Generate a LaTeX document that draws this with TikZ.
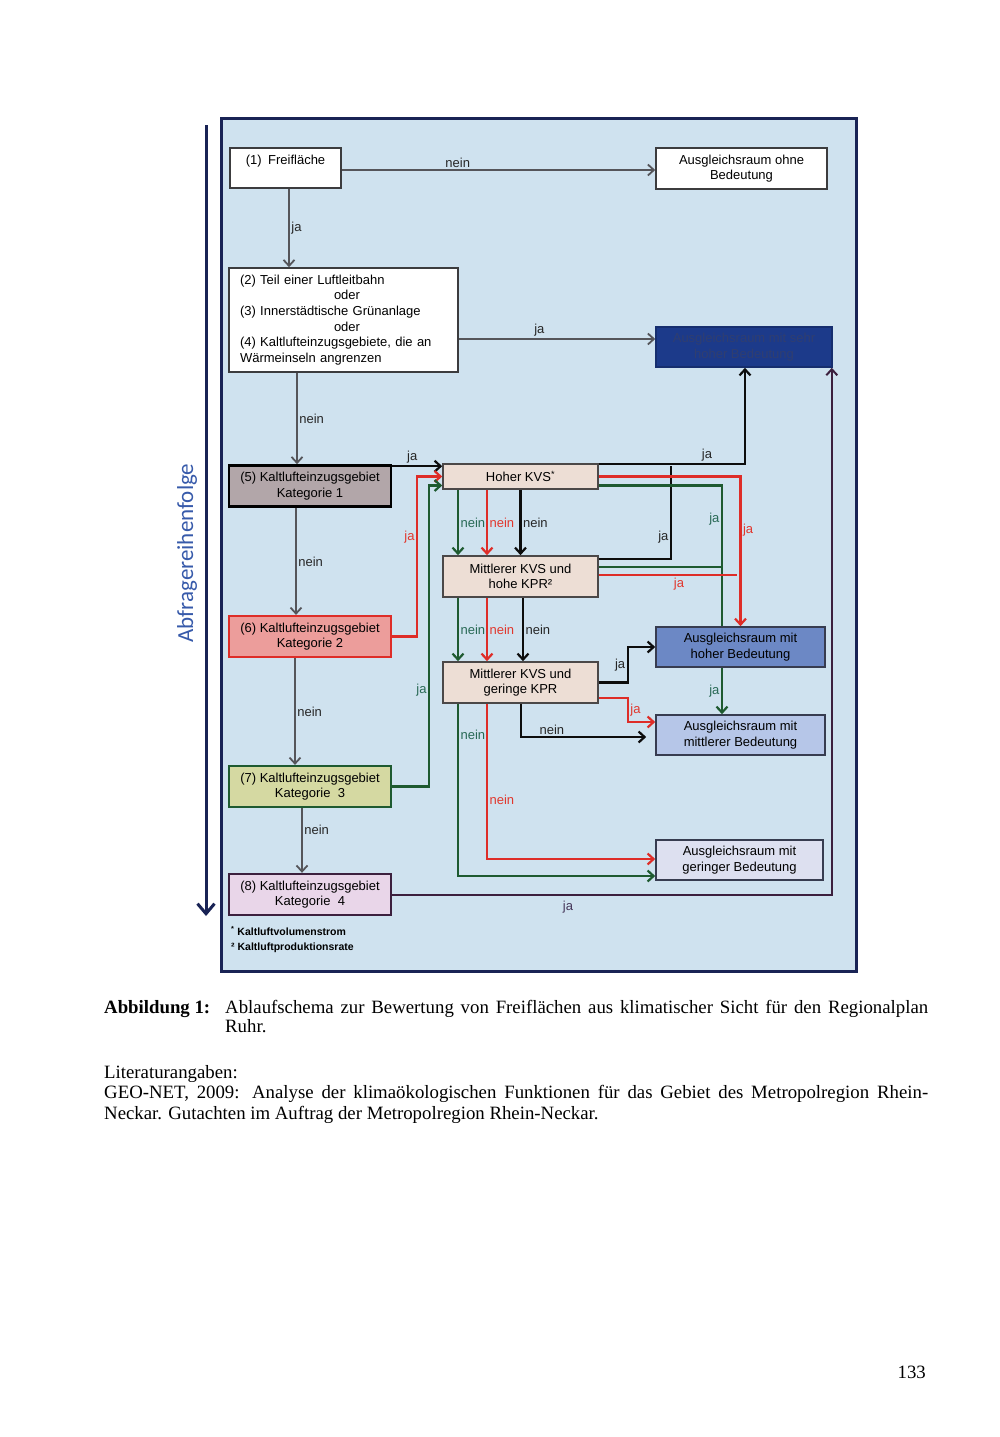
\documentclass[tikz,border=0pt]{standalone}
\usepackage{fontspec}
\setmainfont{Liberation Serif}
\setsansfont{Liberation Sans}
\newfontfamily\calfont{Carlito}
\usetikzlibrary{shapes}
\usetikzlibrary{arrows.meta}

\definecolor{bgblue}{RGB}{207,226,239}
\definecolor{framenavy}{RGB}{25,35,85}
\definecolor{ordblue}{RGB}{55,90,170}
\definecolor{boxgray}{RGB}{60,60,62}
\definecolor{linegray}{RGB}{85,85,90}
\definecolor{redline}{RGB}{222,45,40}
\definecolor{redtext}{RGB}{225,55,45}
\definecolor{greenline}{RGB}{30,90,48}
\definecolor{greentext}{RGB}{40,105,85}
\definecolor{purpleline}{RGB}{60,32,62}
\definecolor{putext}{RGB}{70,55,90}
\definecolor{sehrfill}{RGB}{28,58,138}
\definecolor{sehrtext}{RGB}{48,62,112}
\definecolor{hochfill}{RGB}{108,136,197}
\definecolor{mittelfill}{RGB}{182,198,232}
\definecolor{geringfill}{RGB}{221,224,240}
\definecolor{raumline}{RGB}{55,60,80}
\definecolor{kvsfill}{RGB}{237,222,213}
\definecolor{kvsline}{RGB}{75,72,72}
\definecolor{katafill}{RGB}{178,166,169}
\definecolor{katbfill}{RGB}{236,157,155}
\definecolor{katcfill}{RGB}{213,217,162}
\definecolor{katdfill}{RGB}{233,214,233}

\begin{document}
\begin{tikzpicture}[x=1pt,y=-1pt,
  >={Straight Barb[length=6pt,width=11pt]},
  box/.style={draw=boxgray,line width=1.6pt,align=center,inner sep=2pt,
    font=\sffamily\fontsize{13}{15.6}\selectfont},
  kat/.style={box,minimum width=162pt,minimum height=41pt},
  kvs/.style={box,fill=kvsfill,draw=kvsline,minimum width=155pt},
  raum/.style={box,draw=raumline,minimum height=40pt},
  lab/.style={font=\sffamily\fontsize{13}{15}\selectfont,inner sep=1.5pt,text=black!85},
  gy/.style={draw=linegray,line width=1.8pt},
  blk/.style={draw=black!95,line width=2.2pt},
  rd/.style={draw=redline,line width=2.2pt},
  gn/.style={draw=greenline,line width=2.2pt},
  pu/.style={draw=purpleline,line width=2pt}]

\fill[white] (0,0) rectangle (1000,1437);
\useasboundingbox (0,0) rectangle (1000,1437);
\draw[draw=framenavy,line width=3pt,fill=bgblue] (221,118) rectangle (856,971);

\coordinate (ordtop) at (206,125);
\coordinate (ordbot) at (206,916);
\draw[framenavy,line width=3pt,-{Straight Barb[length=10pt,width=17pt]}] (ordtop) -- (ordbot);
\node[rotate=90,text=ordblue,font=\calfont\fontsize{23}{23}\selectfont] (order) at (187,553) {Abfragereihenfolge};

\node[box,fill=white,minimum width=111pt,minimum height=40pt,align=left] (free) at (285.5,168) {(1)\enspace Freifläche\\\mbox{}};
\node[box,fill=white,minimum width=171pt,minimum height=41pt] (ohne) at (741.5,168.5) {Ausgleichsraum ohne\\Bedeutung};
\node[box,fill=white,minimum width=229pt,minimum height=104pt,text width=207pt,align=left] (teil) at (343.5,320) {(2) Teil einer Luftleitbahn\\\hspace*{94pt}oder\\(3) Innerstädtische Grünanlage\\\hspace*{94pt}oder\\(4) Kaltlufteinzugsgebiete, die an\\Wärmeinseln angrenzen};
\node[box,fill=sehrfill,draw=sehrfill!80!black,text=sehrtext,minimum width=176pt,minimum height=40pt] (sehrhoch) at (744,347) {Ausgleichsraum mit sehr\\hoher Bedeutung};

\node[kat,fill=katafill,draw=black,line width=2.6pt] (kat1) at (310,486) {(5) Kaltlufteinzugsgebiet\\Kategorie 1};
\node[kat,fill=katbfill,draw=redline,line width=2.2pt] (kat2) at (310,636.5) {(6) Kaltlufteinzugsgebiet\\Kategorie 2};
\node[kat,fill=katcfill,draw=greenline,line width=2.2pt] (kat3) at (310,786.5) {(7) Kaltlufteinzugsgebiet\\Kategorie~~3};
\node[kat,fill=katdfill,draw=purpleline,line width=2.4pt] (kat4) at (310,894.5) {(8) Kaltlufteinzugsgebiet\\Kategorie~~4};

\node[kvs,minimum height=25pt] (kvsh) at (520.5,476.5) {Hoher KVS\textsuperscript{*}};
\node[kvs,minimum height=41pt] (kvsm) at (520.5,576.5) {Mittlerer KVS und\\hohe KPR²};
\node[kvs,minimum height=41pt] (kvsg) at (520.5,682.5) {Mittlerer KVS und\\geringe KPR};

\node[raum,fill=hochfill,minimum width=169pt] (hoch) at (740.5,647) {Ausgleichsraum mit\\hoher Bedeutung};
\node[raum,fill=mittelfill,minimum width=169pt] (mittel) at (740.5,735) {Ausgleichsraum mit\\mittlerer Bedeutung};
\node[raum,fill=geringfill,minimum width=167pt] (gering) at (739.5,860) {Ausgleichsraum mit\\geringer Bedeutung};

\node[anchor=west,align=left,inner sep=0,font=\sffamily\bfseries\fontsize{10.5}{15}\selectfont] (notes) at (231,940) {\textsuperscript{*} Kaltluftvolumenstrom\\² Kaltluftproduktionsrate};

\coordinate (jb) at (671,466);
\coordinate (jg) at (722,567);
\coordinate (jr) at (737,575);

\draw[gy,->] ([yshift=-2pt]free.east) -- node[lab,above,pos=0.37]{nein} ([yshift=-1.5pt]ohne.west);
\draw[gy,->] ([xshift=3.5pt]free.south) -- node[lab,right]{ja} ([xshift=-54.5pt]teil.north);
\draw[gy,->] ([yshift=-19pt]teil.east) -- node[lab,above,pos=0.41]{ja} ([yshift=8pt]sehrhoch.west);
\draw[gy,->] ([xshift=-46.5pt]teil.south) -- node[lab,right]{nein} ([xshift=-13pt]kat1.north);
\draw[gy,->] ([xshift=-14pt]kat1.south) -- node[lab,right]{nein} ([xshift=-14pt]kat2.north);
\draw[gy,->] ([xshift=-15pt]kat2.south) -- node[lab,right]{nein} ([xshift=-15pt]kat3.north);
\draw[gy,->] ([xshift=-8pt]kat3.south) -- node[lab,right,pos=0.33]{nein} ([xshift=-8pt]kat4.north);

\draw[blk,->] ([yshift=-2pt]kat1.north east) -- node[lab,above,pos=0.4]{ja} ([yshift=-3pt]kvsh.north west);
\draw[blk,->] ([yshift=-1pt]kvsh.north east) -| node[lab,above,pos=0.37]{ja} ([xshift=1pt]sehrhoch.south);
\draw[blk] ([yshift=17.5pt]kvsm.east) -| node[lab,left,pos=0.62]{ja} (jb);

\draw[rd,->] (kvsh.east) -| node[lab,text=redtext,right,pos=0.68]{ja} (hoch.north);
\draw[gn] ([yshift=-9pt]kvsh.east) -| node[lab,text=greentext,left,pos=0.62]{ja} ([xshift=-18.5pt]hoch.north);
\draw[gn] ([yshift=9.5pt]kvsm.east) -- (jg);
\draw[rd] ([yshift=1.5pt]kvsm.east) -- node[lab,text=redtext,below,pos=0.58]{ja} (jr);

\draw[gn,->] ([xshift=-62.5pt]kvsh.south) -- node[lab,text=greentext,right]{nein} ([xshift=-62.5pt]kvsm.north);
\draw[rd,->] ([xshift=-33.5pt]kvsh.south) -- node[lab,text=redtext,right]{nein} ([xshift=-33.5pt]kvsm.north);
\draw[blk,->] (kvsh.south) -- node[lab,right]{nein} (kvsm.north);
\draw[gn,->] ([xshift=-62.5pt]kvsm.south) -- node[lab,text=greentext,right]{nein} ([xshift=-62.5pt]kvsg.north);
\draw[rd,->] ([xshift=-33.5pt]kvsm.south) -- node[lab,text=redtext,right]{nein} ([xshift=-33.5pt]kvsg.north);
\draw[blk,->] ([xshift=2.5pt]kvsm.south) -- node[lab,right]{nein} ([xshift=2.5pt]kvsg.north);

\draw[blk,->] (kvsg.east) -- ++(29,0) |- node[lab,left,pos=0.25]{ja} (hoch.west);
\draw[rd,->] ([yshift=-15.5pt]kvsg.east) -- ++(29,0) |- node[lab,text=redtext,right,pos=0.25]{ja} ([yshift=13pt]mittel.west);
\draw[blk,->,shorten >=9pt] ([xshift=0.5pt]kvsg.south) |- node[lab,above,pos=0.615]{nein} ([yshift=-2pt]mittel.west);
\draw[gn,->] ([xshift=-62.5pt]kvsg.south) |- node[lab,text=greentext,right,pos=0.09]{nein} ([yshift=-16pt]gering.west);
\draw[rd,->] ([xshift=-33.5pt]kvsg.south) |- node[lab,text=redtext,right,pos=0.31]{nein} ([yshift=1pt]gering.west);
\draw[gn,->] ([xshift=-18.5pt]hoch.south) -- node[lab,text=greentext,left]{ja} ([xshift=-18.5pt]mittel.north);

\draw[rd,->] (kat2.east) -- ++(25,0) |- node[lab,text=redtext,left,pos=0.31]{ja} (kvsh.west);
\draw[gn,->] (kat3.east) -- ++(37,0) |- node[lab,text=greentext,left,pos=0.16]{ja} ([yshift=-9pt]kvsh.west);
\draw[pu,->] (kat4.east) -| node[lab,text=putext,below=4pt,pos=0.2]{ja} ([xshift=-1pt]sehrhoch.south east);

\node[anchor=base west,inner sep=0,font=\fontsize{18.8}{19.5}\selectfont\bfseries] (abb) at (104,1013) {Abbildung 1:};
\node[anchor=north west,inner sep=0,text width=703pt,align=justify,font=\fontsize{18.8}{19.5}\selectfont] (caption) at (225,1000) {Ablaufschema zur Bewertung von Freiflächen aus klimatischer Sicht für den Regionalplan\linebreak Ruhr.};
\node[anchor=north west,inner sep=0,text width=824pt,align=justify,font=\fontsize{18.8}{20.5}\selectfont] (lit) at (104,1065) {Literaturangaben:\\GEO-NET, 2009: Analyse der klimaökologischen Funktionen für das Gebiet des Metropolregion Rhein-\linebreak Neckar. Gutachten im Auftrag der Metropolregion Rhein-Neckar.};
\node[anchor=base east,inner sep=0,font=\fontsize{18.8}{20}\selectfont] (pnum) at (926,1378) {133};
\end{tikzpicture}
\end{document}
